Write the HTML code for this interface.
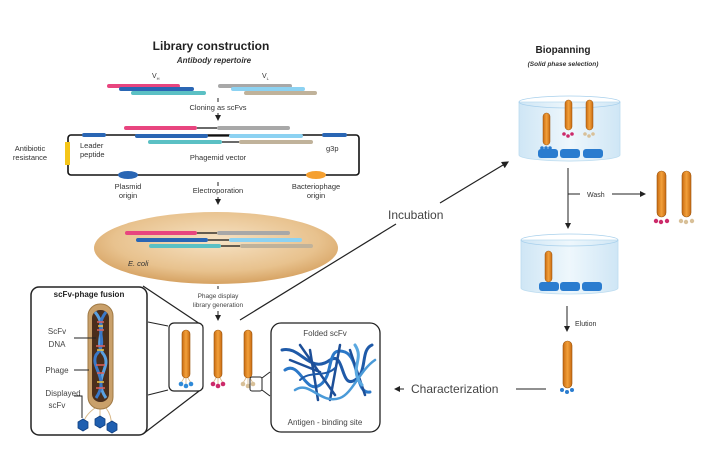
<!DOCTYPE html>
<html><head><meta charset="utf-8"><style>
html,body{margin:0;padding:0;background:#fff;}
svg{display:block;font-family:"Liberation Sans",sans-serif;}
</style></head><body>
<svg width="709" height="460" viewBox="0 0 709 460" xmlns="http://www.w3.org/2000/svg">
<defs>
<linearGradient id="ph" x1="0" x2="1"><stop offset="0" stop-color="#c86a10"/><stop offset="0.5" stop-color="#f2a03a"/><stop offset="1" stop-color="#c86a10"/></linearGradient>
<radialGradient id="ec" cx="0.5" cy="0.4" r="0.6"><stop offset="0" stop-color="#f6e2c4"/><stop offset="0.7" stop-color="#e8c28e"/><stop offset="1" stop-color="#d6a262"/></radialGradient>
<linearGradient id="cyl" x1="0" x2="1"><stop offset="0" stop-color="#cfe6f5"/><stop offset="0.5" stop-color="#eef7fc"/><stop offset="1" stop-color="#cfe6f5"/></linearGradient>
<marker id="ar" markerWidth="6" markerHeight="6" refX="5" refY="3" orient="auto"><path d="M0,0 L6,3 L0,6 z" fill="#222"/></marker>
</defs>
<rect width="709" height="460" fill="#fff"/>

<!-- Library construction -->
<text x="211" y="50" font-size="12" font-weight="bold" text-anchor="middle" fill="#222">Library construction</text>
<text x="214" y="63" font-size="8" font-weight="bold" font-style="italic" text-anchor="middle" fill="#333">Antibody repertoire</text>
<text x="152" y="78" font-size="7" fill="#333">V<tspan font-size="4" dy="2">H</tspan></text>
<text x="262" y="78" font-size="7" fill="#333">V<tspan font-size="4" dy="2">L</tspan></text>
<g stroke-linecap="round" stroke-width="4">
<line x1="109" y1="86" x2="178" y2="86" stroke="#e8457f"/>
<line x1="121" y1="89" x2="192" y2="89" stroke="#2a66b4"/>
<line x1="133" y1="93" x2="204" y2="93" stroke="#5bc0c4"/>
<line x1="220" y1="86" x2="290" y2="86" stroke="#a8a8a8"/>
<line x1="233" y1="89" x2="303" y2="89" stroke="#8cd2f2"/>
<line x1="246" y1="93" x2="315" y2="93" stroke="#c0b29a"/>
</g>
<line x1="218" y1="98" x2="218" y2="102" stroke="#222" stroke-width="1"/>
<text x="218" y="110" font-size="7.5" text-anchor="middle" fill="#333">Cloning as scFvs</text>
<line x1="218" y1="113" x2="218" y2="120" stroke="#222" stroke-width="1" marker-end="url(#ar)"/>

<!-- phagemid -->
<rect x="68" y="135" width="291" height="40" rx="3" fill="none" stroke="#111" stroke-width="1.6"/>
<rect x="65" y="142" width="5" height="23" fill="#f5c518"/>
<g stroke-linecap="round" stroke-width="4">
<line x1="84" y1="135" x2="104" y2="135" stroke="#2a66b4"/>
<line x1="324" y1="135" x2="345" y2="135" stroke="#2a66b4"/>
<line x1="126" y1="128" x2="195" y2="128" stroke="#e8457f"/>
<line x1="219" y1="128" x2="288" y2="128" stroke="#a8a8a8"/>
<line x1="137" y1="136" x2="206" y2="136" stroke="#2a66b4"/>
<line x1="231" y1="136" x2="301" y2="136" stroke="#8cd2f2"/>
<line x1="150" y1="142" x2="220" y2="142" stroke="#5bc0c4"/>
<line x1="241" y1="142" x2="311" y2="142" stroke="#c0b29a"/>
</g>
<g stroke="#111" stroke-width="1.2"><line x1="197" y1="128" x2="217" y2="128"/><line x1="208" y1="136" x2="229" y2="136"/><line x1="222" y1="142" x2="239" y2="142"/></g>
<text x="30" y="151" font-size="7.5" text-anchor="middle" fill="#333">Antibiotic</text>
<text x="30" y="160" font-size="7.5" text-anchor="middle" fill="#333">resistance</text>
<text x="80" y="148" font-size="7.5" fill="#333">Leader</text>
<text x="80" y="157" font-size="7.5" fill="#333">peptide</text>
<text x="218" y="160" font-size="7.5" text-anchor="middle" fill="#333">Phagemid vector</text>
<text x="326" y="151" font-size="7.5" fill="#333">g3p</text>
<ellipse cx="128" cy="175" rx="10" ry="4" fill="#2a66b4"/>
<ellipse cx="316" cy="175" rx="10" ry="4" fill="#f5a030"/>
<text x="128" y="189" font-size="7.5" text-anchor="middle" fill="#333">Plasmid</text>
<text x="128" y="198" font-size="7.5" text-anchor="middle" fill="#333">origin</text>
<text x="316" y="189" font-size="7.5" text-anchor="middle" fill="#333">Bacteriophage</text>
<text x="316" y="198" font-size="7.5" text-anchor="middle" fill="#333">origin</text>
<line x1="218" y1="182" x2="218" y2="186" stroke="#222" stroke-width="1"/>
<text x="218" y="193" font-size="7.5" text-anchor="middle" fill="#333">Electroporation</text>
<line x1="218" y1="197" x2="218" y2="204" stroke="#222" stroke-width="1" marker-end="url(#ar)"/>

<!-- E. coli -->
<ellipse cx="216" cy="248" rx="122" ry="36" fill="url(#ec)"/>
<g stroke-linecap="round" stroke-width="4">
<line x1="127" y1="233" x2="195" y2="233" stroke="#e8457f"/>
<line x1="219" y1="233" x2="288" y2="233" stroke="#a8a8a8"/>
<line x1="138" y1="240" x2="206" y2="240" stroke="#2a66b4"/>
<line x1="231" y1="240" x2="300" y2="240" stroke="#8cd2f2"/>
<line x1="151" y1="246" x2="219" y2="246" stroke="#5bc0c4"/>
<line x1="242" y1="246" x2="311" y2="246" stroke="#c0b29a"/>
</g>
<g stroke="#111" stroke-width="1.2"><line x1="197" y1="233" x2="217" y2="233"/><line x1="208" y1="240" x2="229" y2="240"/><line x1="221" y1="246" x2="240" y2="246"/></g>
<text x="128" y="266" font-size="7.5" font-style="italic" fill="#333">E. coli</text>

<!-- incubation connector -->
<line x1="240" y1="320" x2="396" y2="224" stroke="#222" stroke-width="1.2"/>
<line x1="440" y1="203" x2="508" y2="162" stroke="#222" stroke-width="1.2" marker-end="url(#ar)"/>
<text x="388" y="219" font-size="12" fill="#444">Incubation</text>

<!-- phage display -->
<line x1="218" y1="286" x2="218" y2="289" stroke="#222" stroke-width="1"/>
<text x="218" y="298" font-size="6.5" text-anchor="middle" fill="#444">Phage display</text>
<text x="218" y="307" font-size="6.5" text-anchor="middle" fill="#444">library generation</text>
<line x1="218" y1="311" x2="218" y2="320" stroke="#222" stroke-width="1" marker-end="url(#ar)"/>

<!-- scFv-phage fusion box -->
<line x1="143" y1="286" x2="203" y2="326" stroke="#222" stroke-width="1.2"/>
<line x1="143" y1="434" x2="203" y2="388" stroke="#222" stroke-width="1.2"/>
<line x1="148" y1="322" x2="168" y2="326" stroke="#222" stroke-width="1"/>
<line x1="148" y1="395" x2="168" y2="390" stroke="#222" stroke-width="1"/>
<rect x="31" y="287" width="116" height="148" rx="8" fill="#fff" stroke="#222" stroke-width="1.5"/>
<text x="89" y="297" font-size="8" font-weight="bold" text-anchor="middle" fill="#222">scFv-phage fusion</text>
<g stroke="#d8b888" stroke-width="1" fill="none"><path d="M95,408 Q85,415 83,424"/><path d="M100,408 L100,420"/><path d="M106,408 Q112,416 111,424"/></g>
<rect x="88" y="304" width="25" height="105" rx="12" fill="#c9a06a" stroke="#a07a45" stroke-width="1"/>
<rect x="92" y="310" width="17" height="92" rx="8" fill="#4a2e1c"/>
<path d="M95,312 C110,330 92,340 104,355 C112,368 92,378 106,398" stroke="#5aa0e0" stroke-width="3" fill="none"/>
<path d="M106,312 C92,330 110,340 96,355 C90,368 110,378 96,398" stroke="#3a78c8" stroke-width="3" fill="none"/>
<g stroke="#e0605a" stroke-width="1.5"><line x1="97" y1="322" x2="104" y2="322"/><line x1="97" y1="330" x2="104" y2="330"/><line x1="96" y1="346" x2="105" y2="346"/><line x1="96" y1="365" x2="105" y2="365"/><line x1="97" y1="373" x2="104" y2="373"/><line x1="96" y1="388" x2="105" y2="388"/></g>
<g stroke="#f0c040" stroke-width="1.5"><line x1="98" y1="326" x2="103" y2="326"/><line x1="97" y1="350" x2="104" y2="350"/><line x1="97" y1="382" x2="104" y2="382"/></g>
<g fill="#1f5fb0" stroke="#0f3f80" stroke-width="0.8">
<polygon points="83,419 88,422 88,428 83,431 78,428 78,422"/>
<polygon points="100,416 105,419 105,425 100,428 95,425 95,419"/>
<polygon points="112,421 117,424 117,430 112,433 107,430 107,424"/>
</g>
<text x="57" y="334" font-size="8" text-anchor="middle" fill="#444">ScFv</text>
<text x="57" y="347" font-size="8" text-anchor="middle" fill="#444">DNA</text>
<line x1="74" y1="338" x2="96" y2="338" stroke="#222" stroke-width="1"/>
<text x="57" y="373" font-size="8" text-anchor="middle" fill="#444">Phage</text>
<line x1="74" y1="370" x2="89" y2="370" stroke="#222" stroke-width="1"/>
<text x="63" y="396" font-size="8" text-anchor="middle" fill="#444">Displayed</text>
<text x="57" y="408" font-size="8" text-anchor="middle" fill="#444">scFv</text>
<polyline points="74,396 82,396 82,418" stroke="#222" stroke-width="1" fill="none"/>

<!-- small box -->
<rect x="169" y="323" width="34" height="68" rx="5" fill="#fff" stroke="#222" stroke-width="1.2"/>

<!-- phage template -->
<g id="p1">
<rect x="182" y="330" width="8" height="48" rx="4" fill="url(#ph)" stroke="#9a5510" stroke-width="0.6"/>
<g stroke="#d8b888" stroke-width="0.8"><line x1="184" y1="378" x2="181" y2="383"/><line x1="186" y1="378" x2="186" y2="385"/><line x1="188" y1="378" x2="191" y2="383"/></g>
</g>
<g fill="#2f8ad8"><circle cx="181" cy="384" r="2.3"/><circle cx="186" cy="386" r="2.3"/><circle cx="191" cy="384" r="2.3"/></g>
<use href="#p1" x="32"/>
<g fill="#cc2a6a"><circle cx="213" cy="384" r="2.3"/><circle cx="218" cy="386" r="2.3"/><circle cx="223" cy="384" r="2.3"/></g>
<use href="#p1" x="62"/>
<g fill="#d8c098"><circle cx="243" cy="384" r="2.3"/><circle cx="248" cy="386" r="2.3"/><circle cx="253" cy="384" r="2.3"/></g>
<rect x="250" y="377" width="12" height="14" rx="2" fill="none" stroke="#222" stroke-width="1"/>
<line x1="262" y1="378" x2="270" y2="372" stroke="#222" stroke-width="1"/>
<line x1="262" y1="390" x2="270" y2="396" stroke="#222" stroke-width="1"/>

<!-- folded scFv box -->
<rect x="271" y="323" width="109" height="109" rx="10" fill="#fff" stroke="#222" stroke-width="1.3"/>
<text x="325" y="336" font-size="8" text-anchor="middle" fill="#444">Folded scFv</text>
<text x="325" y="425" font-size="8" text-anchor="middle" fill="#444">Antigen - binding site</text>
<g fill="none" stroke-linecap="round">
<path d="M282,350 C300,345 310,375 330,360 C345,350 340,390 355,380 C368,372 360,350 372,345" stroke="#1f5aa8" stroke-width="3"/>
<path d="M285,370 C300,360 305,395 320,385 C335,375 325,345 345,352 C360,358 355,395 370,392" stroke="#2b78c8" stroke-width="3"/>
<path d="M290,360 L320,372 M300,345 L335,395 M310,350 L318,400 M340,345 L330,400 M350,350 L365,395" stroke="#1d4f98" stroke-width="2.5"/>
<path d="M295,390 C310,380 320,405 340,398 C352,394 360,370 375,360" stroke="#4a9ad8" stroke-width="2.5"/>
<path d="M355,345 C365,360 348,368 362,385" stroke="#5aa8e0" stroke-width="3"/>
<path d="M300,380 C310,370 325,378 335,368" stroke="#1f5aa8" stroke-width="2"/>
</g>

<!-- Biopanning -->
<text x="563" y="53" font-size="10" font-weight="bold" text-anchor="middle" fill="#222">Biopanning</text>
<text x="563" y="66" font-size="6.5" font-weight="bold" font-style="italic" text-anchor="middle" fill="#333">(Solid phase selection)</text>

<!-- cylinder 1 -->
<path d="M519,102 L519,155 A50,6 0 0 0 620,155 L620,102 Z" fill="url(#cyl)" stroke="#bcdcf0" stroke-width="0.8"/>
<ellipse cx="569.5" cy="102" rx="50.5" ry="6" fill="none" stroke="#a8d0ec" stroke-width="0.8"/>
<g fill="#2a7ccf"><rect x="538" y="149" width="20" height="9" rx="3"/><rect x="560" y="149" width="20" height="9" rx="3"/><rect x="583" y="149" width="20" height="9" rx="3"/></g>
<rect x="543" y="113" width="7" height="32" rx="3.5" fill="url(#ph)" stroke="#9a5510" stroke-width="0.5"/>
<g fill="#2a7ccf"><circle cx="542" cy="148" r="1.8"/><circle cx="546" cy="148" r="1.8"/><circle cx="550" cy="148" r="1.8"/></g>
<rect x="565" y="100" width="7" height="30" rx="3.5" fill="url(#ph)" stroke="#9a5510" stroke-width="0.5"/>
<g fill="#cc2a6a"><circle cx="564" cy="134" r="1.8"/><circle cx="568" cy="136" r="1.8"/><circle cx="572" cy="134" r="1.8"/></g>
<rect x="586" y="100" width="7" height="30" rx="3.5" fill="url(#ph)" stroke="#9a5510" stroke-width="0.5"/>
<g fill="#d8c098"><circle cx="585" cy="134" r="1.8"/><circle cx="589" cy="136" r="1.8"/><circle cx="593" cy="134" r="1.8"/></g>

<line x1="568" y1="168" x2="568" y2="228" stroke="#222" stroke-width="1" marker-end="url(#ar)"/>
<line x1="568" y1="194" x2="580" y2="194" stroke="#222" stroke-width="1"/>
<text x="587" y="197" font-size="7" fill="#333">Wash</text>
<line x1="612" y1="194" x2="645" y2="194" stroke="#222" stroke-width="1" marker-end="url(#ar)"/>
<rect x="657" y="171" width="9" height="46" rx="4.5" fill="url(#ph)" stroke="#9a5510" stroke-width="0.6"/>
<g fill="#cc2a6a"><circle cx="656" cy="221" r="2.2"/><circle cx="661" cy="222" r="2.2"/><circle cx="667" cy="221" r="2.2"/></g>
<rect x="682" y="171" width="9" height="46" rx="4.5" fill="url(#ph)" stroke="#9a5510" stroke-width="0.6"/>
<g fill="#d8c098"><circle cx="681" cy="221" r="2.2"/><circle cx="686" cy="222" r="2.2"/><circle cx="692" cy="221" r="2.2"/></g>

<!-- cylinder 2 -->
<path d="M521,240 L521,288 A48.5,6 0 0 0 618,288 L618,240 Z" fill="url(#cyl)" stroke="#bcdcf0" stroke-width="0.8"/>
<ellipse cx="569.5" cy="240" rx="48.5" ry="6" fill="none" stroke="#a8d0ec" stroke-width="0.8"/>
<g fill="#2a7ccf"><rect x="539" y="282" width="20" height="9" rx="3"/><rect x="560" y="282" width="20" height="9" rx="3"/><rect x="582" y="282" width="20" height="9" rx="3"/></g>
<rect x="545" y="251" width="7" height="31" rx="3.5" fill="url(#ph)" stroke="#9a5510" stroke-width="0.5"/>

<line x1="567" y1="306" x2="567" y2="331" stroke="#222" stroke-width="1" marker-end="url(#ar)"/>
<text x="575" y="326" font-size="7" fill="#333">Elution</text>
<rect x="563" y="341" width="9" height="47" rx="4.5" fill="url(#ph)" stroke="#9a5510" stroke-width="0.6"/>
<g fill="#2a7ccf"><circle cx="562" cy="390" r="2"/><circle cx="567" cy="392" r="2"/><circle cx="572" cy="390" r="2"/></g>

<line x1="546" y1="389" x2="516" y2="389" stroke="#222" stroke-width="1"/>
<text x="411" y="393" font-size="12" fill="#444">Characterization</text>
<line x1="404" y1="389" x2="395" y2="389" stroke="#222" stroke-width="1" marker-end="url(#ar)"/>
</svg>
</body></html>
